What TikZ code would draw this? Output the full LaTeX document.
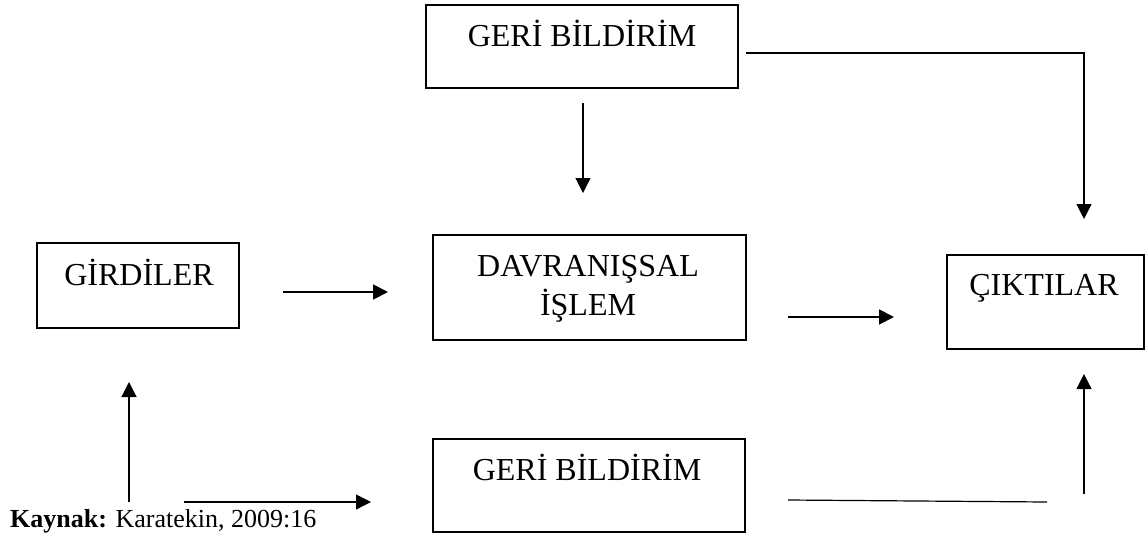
\documentclass[tikz,border=0pt]{standalone}
\usepackage{fontspec}
\setmainfont{Liberation Serif}
\usetikzlibrary{arrows.meta}
\begin{document}
\begin{tikzpicture}[x=1pt,y=-1pt,
  box/.style={draw=black,line width=1.8pt,rectangle,inner sep=0pt},
  txt/.style={anchor=base,inner sep=0pt,align=center,font=\fontsize{32}{39}\selectfont},
  conn/.style={line width=1.2pt,draw=black},
  arr/.style={conn,-{Triangle[width=15pt,length=15pt]}},
  thickarr/.style={line width=1.8pt,-{Triangle[width=15pt,length=15pt]}}]
\useasboundingbox (0,0) rectangle (1147,541);

% boxes
\node[box,minimum width=312pt,minimum height=83pt] (top) at (582,46.5) {};
\node[box,minimum width=202pt,minimum height=85pt] (gir) at (138,285.5) {};
\node[box,minimum width=313pt,minimum height=105pt] (dav) at (589.5,287.5) {};
\node[box,minimum width=197pt,minimum height=94pt] (cik) at (1045.5,302) {};
\node[box,minimum width=312pt,minimum height=93pt] (bot) at (589,485.5) {};

% texts
\node[txt] (ttop) at (582,46) {GERİ BİLDİRİM};
\node[txt] (tgir) at (139,285) {GİRDİLER};
\node[txt] (tdav) at (588,315) {DAVRANIŞSAL\\İŞLEM};
\node[txt] (tcik) at (1044,295) {ÇIKTILAR};
\node[txt] (tbot) at (587,480) {GERİ BİLDİRİM};
\node[anchor=base west,inner sep=0pt,font=\fontsize{26}{30}\selectfont] (src) at (10,527) {\textbf{Kaynak:} Karatekin, 2009:16};

% connector end points
\coordinate (a1s) at (583,103);  \coordinate (a1e) at (583,193);
\coordinate (a2s) at (746,53);   \coordinate (a2m) at (1084,53); \coordinate (a2e) at (1084,219);
\coordinate (a3s) at (283,292);  \coordinate (a3e) at (388,292);
\coordinate (a4s) at (788,317);  \coordinate (a4e) at (894,317);
\coordinate (a5s) at (129,502);  \coordinate (a5e) at (129,382);
\coordinate (a6s) at (184,502);  \coordinate (a6e) at (371,502);
\coordinate (l7s) at (788,500);  \coordinate (l7e) at (1047,502);
\coordinate (a8s) at (1084,494); \coordinate (a8e) at (1084,374);

% connectors
\draw[arr] (a1s) -- (a1e);
\draw[arr] (a2s) -- (a2m) -- (a2e);
\draw[thickarr] (a3s) -- (a3e);
\draw[thickarr] (a4s) -- (a4e);
\draw[arr] (a5s) -- (a5e);
\draw[arr] (a6s) -- (a6e);
\draw[conn] (l7s) -- (l7e);
\draw[arr] (a8s) -- (a8e);
\end{tikzpicture}
\end{document}
